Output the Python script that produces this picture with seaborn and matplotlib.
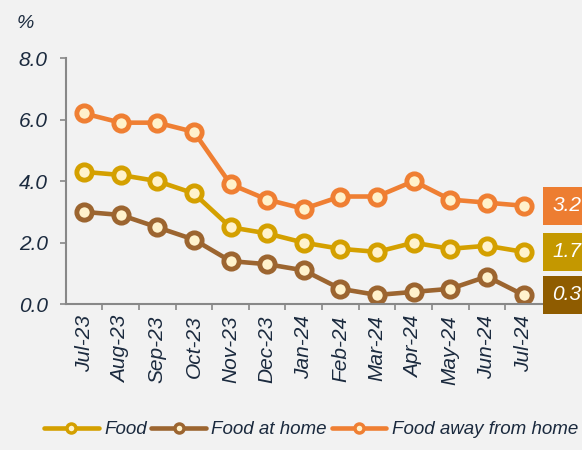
import matplotlib
matplotlib.use("Agg")
import matplotlib.pyplot as plt
import seaborn as sns
import pandas as pd
from matplotlib.lines import Line2D

months = ["Jul-23", "Aug-23", "Sep-23", "Oct-23", "Nov-23", "Dec-23", "Jan-24",
          "Feb-24", "Mar-24", "Apr-24", "May-24", "Jun-24", "Jul-24"]
food = [4.3, 4.2, 4.0, 3.6, 2.5, 2.3, 2.0, 1.8, 1.7, 2.0, 1.8, 1.9, 1.7]
food_home = [3.0, 2.9, 2.5, 2.1, 1.4, 1.3, 1.1, 0.5, 0.3, 0.4, 0.5, 0.9, 0.3]
food_away = [6.2, 5.9, 5.9, 5.6, 3.9, 3.4, 3.1, 3.5, 3.5, 4.0, 3.4, 3.3, 3.2]
series_names = ["Food", "Food at home", "Food away from home"]
line_colors = ["#D4A000", "#9C6530", "#EF7F33"]
box_colors = ["#C49800", "#8F5C00", "#ED7D31"]
yticks = [0.0, 2.0, 4.0, 6.0, 8.0]

sns.set_theme(style="white")
plt.rcParams["font.family"] = ["Liberation Sans", "DejaVu Sans"]
bg = "#F2F2F2"
txt = "#1B2A3E"

rows = []
for name, vals in zip(series_names, [food, food_home, food_away]):
    for i, (m, v) in enumerate(zip(months, vals)):
        rows.append({"idx": i, "month": m, "value": v, "series": name})
df = pd.DataFrame(rows)

fig = plt.figure(figsize=(5.82, 4.5), dpi=100, facecolor=bg)
ax = fig.add_axes([0.113, 0.324, 0.818, 0.547])
ax.set_facecolor(bg)

sns.lineplot(data=df, x="idx", y="value", hue="series", hue_order=series_names,
             palette=line_colors, marker="o", markersize=11, markeredgewidth=3.5,
             markerfacecolor="#FFF2CC", linewidth=3.3, legend=False, ax=ax)
for ln, c in zip(ax.get_lines(), line_colors):
    ln.set_markeredgecolor(c)

ax.set_xlim(-0.5, len(months) - 0.5)
ax.set_ylim(0, 8)
ax.set_yticks(yticks)
ax.set_yticklabels([f"{t:.1f}" for t in yticks], fontsize=15, style="italic", color=txt)
ax.set_xticks(range(len(months)))
ax.set_xticklabels(months, rotation=90, fontsize=15, style="italic", color=txt,
                   ha="center", va="top")
ax.set_xticks([i + 0.5 for i in range(len(months) - 1)], minor=True)
ax.tick_params(axis="x", which="major", length=0, pad=8)
ax.tick_params(axis="x", which="minor", length=4, width=1.2, color="#888888", direction="out", bottom=True)
ax.tick_params(axis="y", length=4, width=1.2, color="#888888", direction="out", left=True, pad=9)
ax.set_xlabel("")
ax.set_ylabel("")
for s in ["top", "right"]:
    ax.spines[s].set_visible(False)
for s in ["left", "bottom"]:
    ax.spines[s].set_color("#888888")
    ax.spines[s].set_linewidth(1.5)

fig.text(0.028, 0.948, "%", fontsize=14, style="italic", color=txt, ha="left", va="center")

# end labels
for vals, c in zip([food_away, food, food_home], [box_colors[2], box_colors[0], box_colors[1]]):
    v = vals[-1]
    ax.annotate(f"{v:.1f}", xy=(1.0, v), xycoords=("axes fraction", "data"),
                xytext=(7.5, 0), textcoords="offset points", ha="left", va="center",
                fontsize=15, style="italic", color="white",
                bbox=dict(boxstyle="square,pad=0.45", fc=c, ec="none"), annotation_clip=False)

handles = [Line2D([0], [0], color=c, lw=3.3, marker="o", markersize=6.5, markeredgewidth=2.5,
                  markerfacecolor="#FFF2CC", markeredgecolor=c) for c in line_colors]
leg = fig.legend(handles, series_names, loc="center right", bbox_to_anchor=(1.022, 0.045),
                 ncol=3, frameon=False, fontsize=13.5, handlelength=2.9, handletextpad=0.3,
                 columnspacing=0.25)
for t in leg.get_texts():
    t.set_style("italic")
    t.set_color(txt)

fig.savefig("out.png", dpi=100, facecolor=bg)
